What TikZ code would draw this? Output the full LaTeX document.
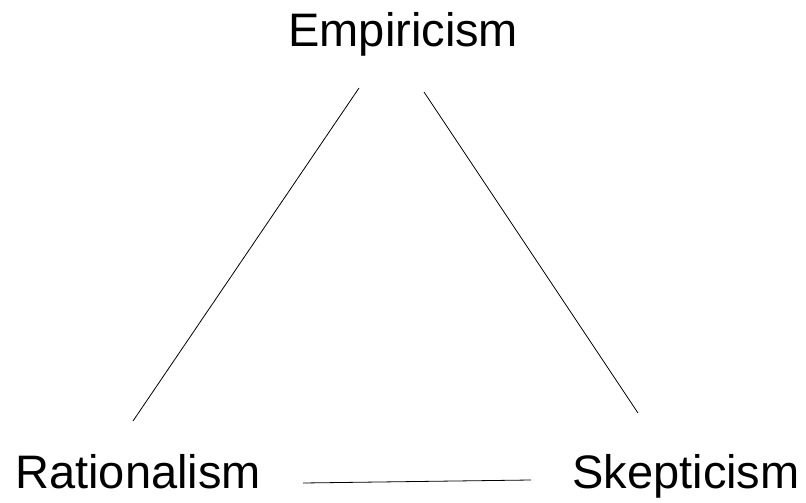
\documentclass[tikz,border=0pt]{standalone}
\usepackage{fontspec}
\setmainfont{Liberation Sans}
\begin{document}
\begin{tikzpicture}[x=1pt, y=-1pt, line width=0.8pt,
    school/.style={anchor=base west, inner sep=0pt, font=\fontsize{47}{56}\selectfont}]
    \useasboundingbox (0,0) rectangle (806,503);

    \node[school] (emp) at (288,47) {Empiricism};
    \node[school] (rat) at (15,488) {Rationalism};
    \node[school] (ske) at (572,488) {Skepticism};

    % free ends of the three links
    \coordinate (empL) at (359,88);
    \coordinate (empR) at (424,92);
    \coordinate (ratT) at (133,421);
    \coordinate (ratR) at (303,483);
    \coordinate (skeT) at (638,413);
    \coordinate (skeL) at (531,480);

    \draw (empL) -- (ratT);
    \draw (empR) -- (skeT);
    \draw (ratR) -- (skeL);
  \end{tikzpicture}
\end{document}
